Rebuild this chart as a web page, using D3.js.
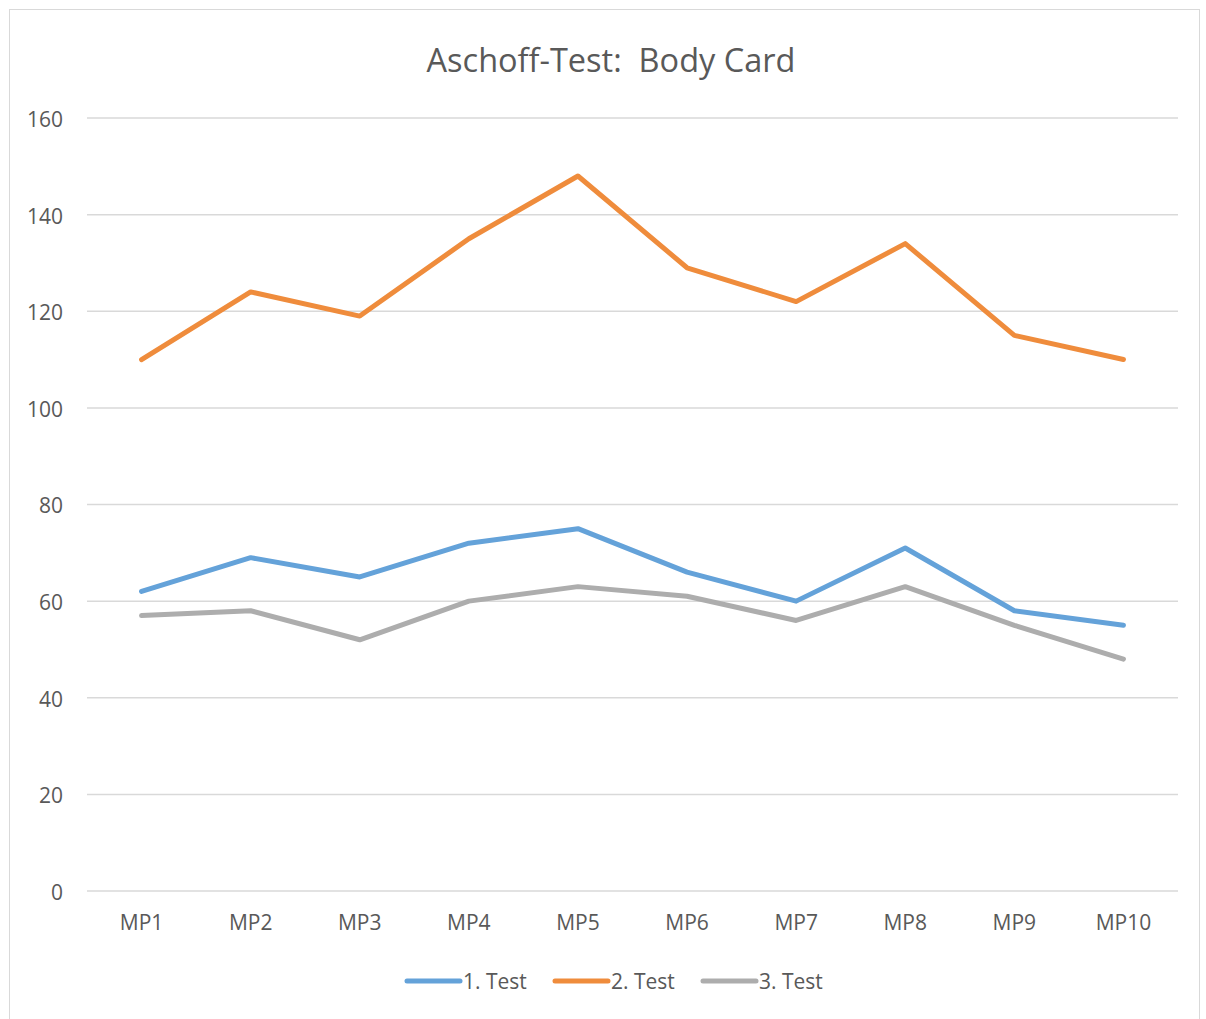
<html>
<head>
<meta charset="utf-8">
<script src="https://cdn.jsdelivr.net/npm/d3@7"></script>
<style>
  body { margin: 0; background: #fff; }
</style>
</head>
<body>
<div id="chart"></div>
<script>
const categories = ["MP1", "MP2", "MP3", "MP4", "MP5", "MP6", "MP7", "MP8", "MP9", "MP10"];
const seriesNames = ["1. Test", "2. Test", "3. Test"];
const test1 = [62, 69, 65, 72, 75, 66, 60, 71, 58, 55];
const test2 = [110, 124, 119, 135, 148, 129, 122, 134, 115, 110];
const test3 = [57, 58, 52, 60, 63, 61, 56, 63, 55, 48];
const yTicks = [0, 20, 40, 60, 80, 100, 120, 140, 160];
const colors = ["#64a2d9", "#ef8c3c", "#adadad"];

const width = 1206, height = 1019;
const series = [test1, test2, test3];
const font = "'Open Sans', 'Noto Sans', sans-serif";

const svg = d3.select("#chart").append("svg")
  .attr("width", width).attr("height", height);

svg.append("rect")
  .attr("x", 9.5).attr("y", 9.5)
  .attr("width", 1190).attr("height", 1030)
  .attr("fill", "none").attr("stroke", "#d9d9d9");

const x = d3.scaleBand().domain(categories).range([87, 1178]);
const y = d3.scaleLinear().domain([0, 160]).range([891, 118]);

// title
svg.append("text")
  .attr("x", 611).attr("y", 72)
  .attr("text-anchor", "middle")
  .attr("font-family", font).attr("font-size", 32.5)
  .attr("fill", "#595959")
  .attr("xml:space", "preserve")
  .text("Aschoff-Test:  Body Card");

// grid
svg.append("g").selectAll("line")
  .data(yTicks).join("line")
  .attr("x1", 87).attr("x2", 1178)
  .attr("y1", d => y(d)).attr("y2", d => y(d))
  .attr("stroke", "#d9d9d9").attr("stroke-width", 1.5);

// y axis labels
const yAxis = svg.append("g")
  .attr("transform", "translate(87,0)")
  .call(d3.axisLeft(y).tickValues(yTicks).tickSize(0).tickPadding(24));
yAxis.select(".domain").remove();
yAxis.selectAll("text")
  .attr("font-family", font).attr("font-size", 21).attr("fill", "#595959")
  .attr("dy", "0.4em");

// x axis labels
const xAxis = svg.append("g")
  .attr("transform", "translate(0,891)")
  .call(d3.axisBottom(x).tickSize(0).tickPadding(24));
xAxis.select(".domain").remove();
xAxis.selectAll("text")
  .attr("font-family", font).attr("font-size", 21).attr("fill", "#595959");

// lines
const line = d3.line()
  .x((d, i) => x(categories[i]) + x.bandwidth() / 2)
  .y(d => y(d));

svg.append("g").selectAll("path")
  .data(series).join("path")
  .attr("d", line)
  .attr("fill", "none")
  .attr("stroke", (d, i) => colors[i])
  .attr("stroke-width", 5)
  .attr("stroke-linejoin", "round")
  .attr("stroke-linecap", "round");

// legend
const legendX = [407, 555, 703];
const legend = svg.append("g").selectAll("g")
  .data(seriesNames).join("g")
  .attr("transform", (d, i) => `translate(${legendX[i]},981)`);
legend.append("line")
  .attr("x1", 0).attr("x2", 53)
  .attr("stroke", (d, i) => colors[i])
  .attr("stroke-width", 5).attr("stroke-linecap", "round");
legend.append("text")
  .attr("x", 56).attr("dy", "0.36em")
  .attr("font-family", font).attr("font-size", 21).attr("fill", "#595959")
  .text(d => d);
</script>
</body>
</html>
